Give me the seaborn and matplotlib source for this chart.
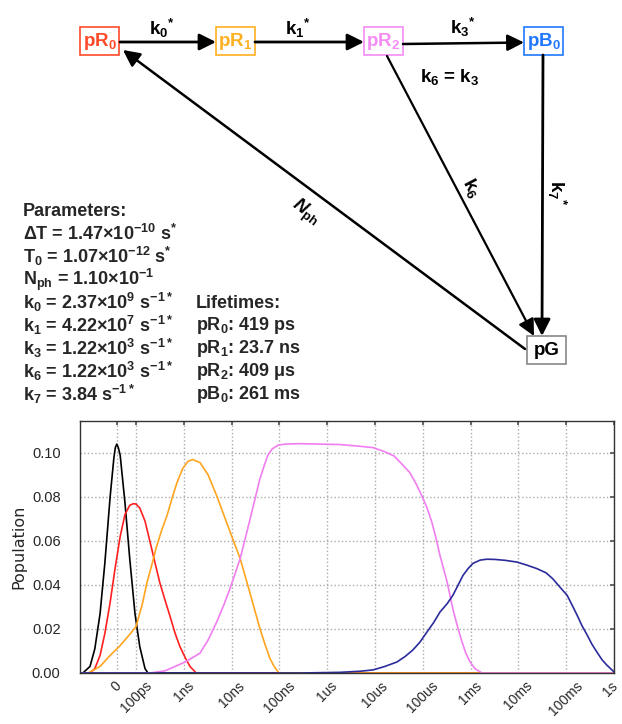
import numpy as np
import pandas as pd
import matplotlib
matplotlib.use("Agg")
import matplotlib.pyplot as plt
from matplotlib.transforms import ScaledTranslation
import seaborn as sns

# x positions are log10(time / s); y is population
black_x = [-11.17, -11.11, -10.96, -10.86, -10.75, -10.65, -10.54, -10.46, -10.43, -10.40, -10.37,
           -10.33, -10.23, -10.13, -10.02, -9.92, -9.81, -9.75, 0.0]
black_y = [0, 0, 0.003, 0.011, 0.027, 0.05, 0.08, 0.098, 0.1025, 0.104, 0.1025,
           0.099, 0.0775, 0.052, 0.027, 0.012, 0.002, 0, 0]

red_x = [-11.17, -10.96, -10.86, -10.75, -10.65, -10.54, -10.44, -10.33, -10.23, -10.13, -10.06,
         -10.00, -9.92, -9.81, -9.71, -9.60, -9.50, -9.39, -9.29, -9.18, -9.08, -8.97, -8.87,
         -8.74, 0.0]
red_y = [0, 0, 0.002, 0.008, 0.018, 0.032, 0.047, 0.062, 0.072, 0.0762, 0.0769,
         0.0768, 0.075, 0.069, 0.060, 0.050, 0.041, 0.033, 0.026, 0.018, 0.012, 0.007, 0.003,
         0, 0]

orange_x = [-11.17, -11.00, -10.75, -10.54, -10.33, -10.17, -10.00, -9.87, -9.77, -9.67, -9.58,
            -9.46, -9.35, -9.25, -9.14, -9.02, -8.91, -8.81, -8.66, -8.49, -8.31, -8.08,
            -7.82, -7.62, -7.41, -7.30, -7.20, -7.11, -7.01, 0.0]
orange_y = [0, 0, 0.003, 0.008, 0.0125, 0.0165, 0.021, 0.031, 0.041, 0.049, 0.0566,
            0.065, 0.0715, 0.079, 0.0866, 0.093, 0.0962, 0.097, 0.0956, 0.090, 0.0805, 0.067,
            0.052, 0.0368, 0.0204, 0.013, 0.0068, 0.003, 0, 0]

pink_x = [-11.17, -9.71, -9.39, -9.18, -8.97, -8.66, -8.49, -8.31, -8.16, -8.03, -7.82, -7.68,
          -7.51, -7.41, -7.32, -7.24, -7.15, -7.03, -6.88, -6.57, -6.15, -5.73, -5.31, -5.04,
          -4.79, -4.60, -4.44, -4.27, -4.14, -4.02, -3.91, -3.81, -3.72, -3.64, -3.49, -3.37,
          -3.26, -3.18, -3.10, -3.01, -2.91, -2.76, 0.0]
pink_y = [0, 0, 0.001, 0.003, 0.005, 0.009, 0.015, 0.0232, 0.031, 0.0385, 0.052, 0.064,
          0.079, 0.088, 0.094, 0.099, 0.1018, 0.1035, 0.104, 0.1042, 0.104, 0.1038, 0.103, 0.1024,
          0.1005, 0.0986, 0.095, 0.091, 0.086, 0.0805, 0.075, 0.0685, 0.061, 0.0534, 0.0413, 0.029,
          0.020, 0.0142, 0.009, 0.005, 0.002, 0, 0]

blue_x = [-11.17, -6.57, -5.73, -5.31, -5.04, -4.79, -4.54, -4.37, -4.21, -4.06, -3.91, -3.77,
          -3.64, -3.49, -3.37, -3.26, -3.16, -3.05, -2.95, -2.80, -2.66, -2.49, -2.28, -2.03,
          -1.82, -1.61, -1.42, -1.28, -1.13, -0.98, -0.88, -0.77, -0.67, -0.56, -0.46, -0.36,
          -0.25, -0.15, 0.0]
blue_y = [0, 0, 0.0003, 0.0008, 0.0014, 0.003, 0.005, 0.0075, 0.0104, 0.014, 0.0187, 0.023,
          0.0277, 0.0315, 0.0353, 0.040, 0.0443, 0.0475, 0.0498, 0.0513, 0.0517, 0.0516, 0.0512, 0.0504,
          0.049, 0.0474, 0.0455, 0.0428, 0.039, 0.0353, 0.031, 0.0262, 0.0215, 0.0172, 0.013, 0.0096,
          0.006, 0.0036, 0.0005]

tick_pos = [-10.4, -10, -9, -8, -7, -6, -5, -4, -3, -2, -1, 0]
tick_labels = ['0', '100ps', '1ns', '10ns', '100ns', '1us', '10us', '100us', '1ms', '10ms', '100ms', '1s']
y_ticks = [0.0, 0.02, 0.04, 0.06, 0.08, 0.10]

param_lines = ['Parameters:',
               r'ΔT = 1.47×10$^{-10}$ s$^{*}$',
               r'T$_0$ = 1.07×10$^{-12}$ s$^{*}$',
               r'N$_{ph}$ = 1.10×10$^{-1}$',
               r'k$_0$ = 2.37×10$^{9}$ s$^{-1*}$',
               r'k$_1$ = 4.22×10$^{7}$ s$^{-1*}$',
               r'k$_3$ = 1.22×10$^{3}$ s$^{-1*}$',
               r'k$_6$ = 1.22×10$^{3}$ s$^{-1*}$',
               r'k$_7$ = 3.84 s$^{-1*}$']
life_lines = ['Lifetimes:',
              r'pR$_0$: 419 ps',
              r'pR$_1$: 23.7 ns',
              r'pR$_2$: 409 μs',
              r'pB$_0$: 261 ms']

# long table for seaborn
frames = []
for name, xs, ys in [('pG*', black_x, black_y), ('pR0', red_x, red_y), ('pR1', orange_x, orange_y),
                     ('pR2', pink_x, pink_y), ('pB0', blue_x, blue_y)]:
    frames.append(pd.DataFrame({'x': xs, 'y': ys, 'state': name}))
df = pd.concat(frames, ignore_index=True)
palette = {'pG*': 'black', 'pR0': '#ff2020', 'pR1': '#ffa520', 'pR2': '#f07ef0', 'pB0': '#2b2b9c'}

sns.set_theme(style='white')
plt.rcParams['font.family'] = ['Liberation Sans', 'DejaVu Sans']
plt.rcParams['mathtext.fontset'] = 'custom'
plt.rcParams['mathtext.rm'] = 'Liberation Sans:bold'
plt.rcParams['mathtext.it'] = 'Liberation Sans:bold'
plt.rcParams['mathtext.bf'] = 'Liberation Sans:bold'
plt.rcParams['mathtext.default'] = 'rm'

fig = plt.figure(figsize=(6.22, 7.24), dpi=100)

# ---- reaction scheme (pixel coordinates) ----
ax_d = fig.add_axes([0, 0, 1, 1])
ax_d.set_xlim(0, 622)
ax_d.set_ylim(724, 0)
ax_d.axis('off')

boxes = {'pR$_0$': (80, 27, '#ff4a2a'), 'pR$_1$': (216, 27, '#ffb020'),
         'pR$_2$': (364, 27, '#f58cf5'), 'pB$_0$': (524, 27, '#1f78ff'),
         'pG': (527, 336, 'black')}
for lab, (bx, by, col) in boxes.items():
    edge = '#888888' if col == 'black' else col
    ax_d.add_patch(plt.Rectangle((bx, by), 39, 28, fill=False, ec=edge, lw=1.2))
    ax_d.text(bx + 19.5, by + 14.5, lab, color=col, fontsize=13.5, fontweight='bold',
              ha='center', va='center')

def arrow(x0, y0, x1, y1, lw=2.0):
    ax_d.annotate('', xy=(x1, y1), xytext=(x0, y0),
                  arrowprops=dict(arrowstyle='-|>,head_length=0.4,head_width=0.2', lw=lw,
                                  color='black', mutation_scale=25, shrinkA=0, shrinkB=0))

arrow(120, 42, 216, 42)
arrow(255, 42, 364, 42)
arrow(403, 44, 524, 42.5, lw=1.8)
arrow(387, 56, 534, 336, lw=1.6)
arrow(543, 55, 542, 336)
arrow(525, 349, 123, 50, lw=1.8)

lab_kw = dict(fontsize=13.5, fontweight='bold', ha='center', va='center', color='black')
ax_d.text(162, 28, r'k$_0$$^{*}$', **lab_kw)
ax_d.text(298, 28, r'k$_1$$^{*}$', **lab_kw)
ax_d.text(463, 27, r'k$_3$$^{*}$', **lab_kw)
ax_d.text(450, 77, r'k$_6$ = k$_3$', **lab_kw)
ax_d.text(471, 188, r'k$_6$', rotation=-62, **lab_kw)
ax_d.text(557, 193, r'k$_7$$^{*}$', rotation=-90, **lab_kw)
ax_d.text(305, 213, r'N$_{ph}$', rotation=-36.5, fontstyle='italic', **lab_kw)

for i, line in enumerate(param_lines):
    ax_d.text(23, 211 + i * 22.9, line, fontsize=13, fontweight='bold', ha='left', va='center')
for i, line in enumerate(life_lines):
    ax_d.text(196, 303 + i * 22.9, line, fontsize=13, fontweight='bold', ha='left', va='center')

# ---- population plot ----
ax = fig.add_axes([80 / 622, 1 - 673 / 724, 534 / 622, 252 / 724])
sns.lineplot(data=df, x='x', y='y', hue='state', palette=palette, estimator=None,
             sort=False, legend=False, linewidth=1.2, ax=ax)
ax.set_xlim(-11.17, 0.0)
ax.set_ylim(0, 0.1145)
ax.set_xticks(tick_pos)
ax.set_xticklabels(tick_labels, rotation=45, ha='center', fontsize=10)
ax.set_yticks(y_ticks)
ax.set_yticklabels(['%.2f' % v for v in y_ticks], fontsize=10.5)
ax.set_xlabel('')
ax.set_ylabel('Population', fontfamily='DejaVu Sans', fontsize=11.5, labelpad=4)
ax.grid(True, color='#aaaaaa', linestyle=':', linewidth=1.0)
ax.tick_params(axis='both', direction='in', length=3, color='#555555', top=True, right=True)
ax.tick_params(axis='y', pad=14)
ax.tick_params(axis='x', pad=4)
for s in ax.spines.values():
    s.set_color('#333333')
    s.set_linewidth(1.0)
    s.set_visible(True)

# keep the last label inside the canvas
last = ax.get_xticklabels()[-1]
last.set_transform(last.get_transform() + ScaledTranslation(-3 / 72, 0, fig.dpi_scale_trans))

fig.savefig('out.png', dpi=100)
